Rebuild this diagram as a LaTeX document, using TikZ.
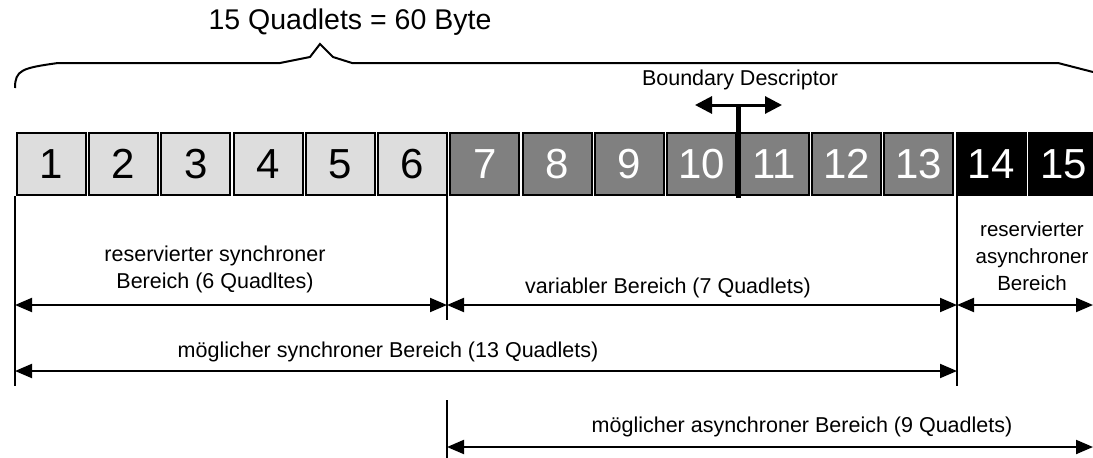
\documentclass[tikz,border=0pt]{standalone}
\usepackage{fontspec}
\setmainfont{Liberation Sans}
\usetikzlibrary{arrows.meta}
\definecolor{syncgray}{RGB}{221,221,221}
\definecolor{vargray}{RGB}{128,128,128}
\begin{document}
\begin{tikzpicture}[x=1pt,y=-1pt,
    quad/.style={draw=black, line width=2pt, minimum width=69pt, minimum height=62pt,
        inner sep=0pt, font=\fontsize{42}{42}\selectfont},
    dim/.style={line width=2pt, {Triangle[length=17pt,width=14pt]}-{Triangle[length=17pt,width=14pt]}},
    lbl/.style={font=\fontsize{21.5}{27}\selectfont, align=center, inner sep=0pt}]
    \useasboundingbox (0,0) rectangle (1093,458);
    \begin{scope}
        \tikzstyle{every node}=[quad, fill=syncgray, text=black]
        \foreach \i in {1,...,6}
            \node (q\i) at ({15+(\i-0.5)*72.3},164) {\i};
    \end{scope}
    \begin{scope}
        \tikzstyle{every node}=[quad, fill=vargray, text=white]
        \foreach \i in {7,...,13}
            \node (q\i) at ({15+(\i-0.5)*72.3},164) {\i};
    \end{scope}
    \begin{scope}
        \tikzstyle{every node}=[quad, fill=black, text=white]
        \foreach \i in {14,15}
            \node (q\i) at ({15+(\i-0.5)*72.3},164) {\i};
    \end{scope}
    % brace
    \node[font=\fontsize{28.5}{28.5}\selectfont] (total) at (350,22) {15 Quadlets = 60 Byte};
    \draw[line width=2pt] (15,88) .. controls (15,70) and (22,68) .. (58,63) -- (280,63)
        -- (300,59) -- (310,57) -- (320,44) -- (333,57) -- (352,63) -- (1058,63) -- (1093,72);
    % boundary descriptor
    \node[lbl] (bd) at (740,80) {Boundary Descriptor};
    \coordinate (bdtop) at (738,105);
    \coordinate (bdl) at (695,105);
    \coordinate (bdr) at (782,105);
    \draw[line width=5pt] (bdtop) -- (738,198);
    \draw[line width=3pt, {Triangle[length=17pt,width=17pt]}-{Triangle[length=17pt,width=17pt]}] (bdl) -- (bdr);
    % extension lines
    \coordinate (a) at (15,386);
    \coordinate (b) at (447,320);
    \coordinate (bb) at (447,400);
    \coordinate (bbe) at (447,458);
    \coordinate (c) at (957,386);
    \draw[line width=1.5pt] (15,196) -- (a);
    \draw[line width=1.5pt] (447,196) -- (b);
    \draw[line width=1.5pt] (bb) -- (bbe);
    \draw[line width=1.5pt] (957,196) -- (c);
    % dimension arrows
    \coordinate (r1a) at (15,305);
    \coordinate (r1b) at (447,305);
    \coordinate (r1c) at (957,305);
    \coordinate (r1d) at (1093,305);
    \coordinate (r2a) at (15,371);
    \coordinate (r2b) at (957,371);
    \coordinate (r3a) at (447,447);
    \coordinate (r3b) at (1093,447);
    \draw[dim] (r1a) -- (r1b);
    \draw[dim] (r1b) -- (r1c);
    \draw[dim] (r1c) -- (r1d);
    \draw[dim] (r2a) -- (r2b);
    \draw[dim] (r3a) -- (r3b);
    % labels
    \node[lbl] (sync) at (215,269) {reservierter synchroner\\Bereich (6 Quadltes)};
    \node[lbl] (var) at (668,288) {variabler Bereich (7 Quadlets)};
    \node[lbl, font=\fontsize{20.5}{27}\selectfont] (async) at (1032,256) {reservierter\\asynchroner\\Bereich};
    \node[lbl] (msync) at (388,352) {möglicher synchroner Bereich (13 Quadlets)};
    \node[lbl] (masync) at (802,427) {möglicher asynchroner Bereich (9 Quadlets)};
\end{tikzpicture}
\end{document}
